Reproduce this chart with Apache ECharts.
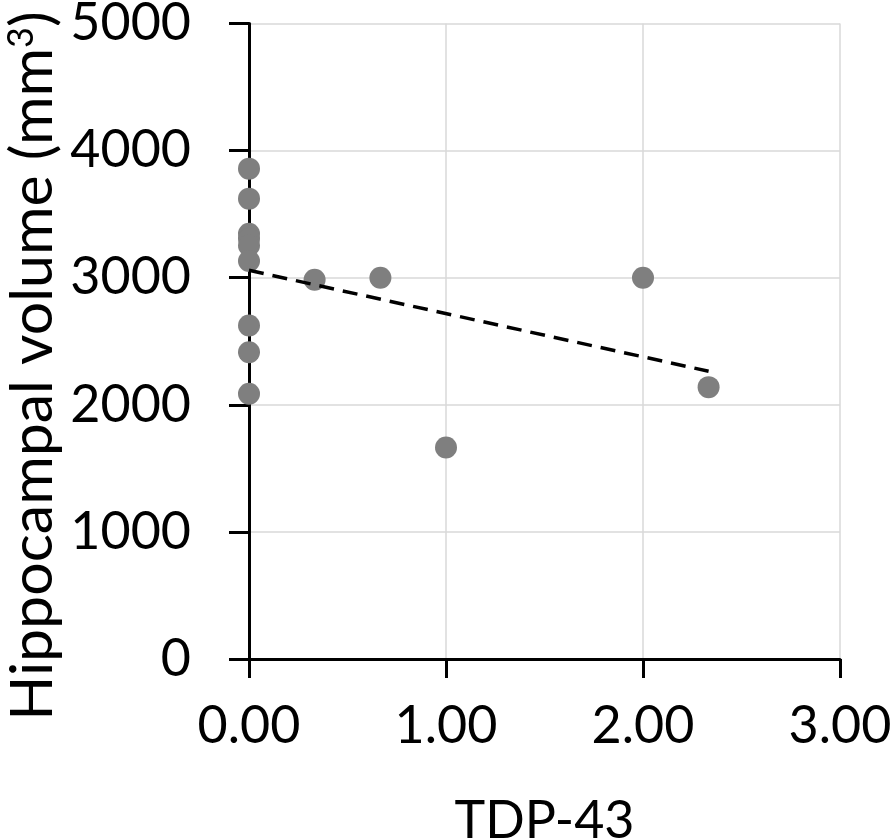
<!DOCTYPE html>
<html>
<head>
<meta charset="utf-8">
<script src="https://cdn.jsdelivr.net/npm/echarts@6/dist/echarts.min.js"></script>
<style>html,body{margin:0;padding:0;background:#fff}#c{width:894px;height:838px}</style>
</head>
<body>
<div id="c"></div>
<script>
var tdp43 = [0, 0, 0, 0, 0, 0, 0, 0, 0, 0.333, 0.667, 1.0, 2.0, 2.333];
var volume = [3858, 3622, 3346, 3307, 3254, 3132, 2624, 2414, 2087, 2984, 3000, 1664, 3000, 2139];
var trendX = [0, 2.333];
var trendY = [3058, 2264];
var xTicks = ['0.00', '1.00', '2.00', '3.00'];
var yTicks = ['0', '1000', '2000', '3000', '4000', '5000'];

var points = tdp43.map(function (x, i) { return [x, volume[i]]; });
var trend = trendX.map(function (x, i) { return [x, trendY[i]]; });
var FONT = 'Lato';

var chart = echarts.init(document.getElementById('c'), null, {renderer: 'canvas'});
chart.setOption({
  animation: false,
  grid: {left: 249, right: 54, top: 23.5, bottom: 179, containLabel: false, outerBoundsMode: 'none'},
  graphic: [{
    type: 'text', x: 33, y: 366, rotation: Math.PI / 2,
    style: {
      text: 'Hippocampal volume (mm{sup|3})', fontFamily: FONT, fontSize: 59, fill: '#000',
      align: 'center', verticalAlign: 'middle',
      rich: {sup: {fontFamily: FONT, fontSize: 36, fill: '#000', padding: [0, 0, 24, 0]}}
    }
  }],
  xAxis: {
    type: 'value', min: 0, max: 3, interval: 1,
    name: 'TDP-43', nameLocation: 'middle', nameGap: 136,
    nameTextStyle: {fontFamily: FONT, fontSize: 52, color: '#000'},
    axisLine: {show: true, onZero: false, lineStyle: {color: '#000', width: 3}},
    axisTick: {show: true, inside: false, length: 19, lineStyle: {color: '#000', width: 3}},
    axisLabel: {margin: 41, fontFamily: FONT, fontSize: 52, color: '#000',
      formatter: function (v) { return xTicks[Math.round(v)]; }},
    splitLine: {show: true, lineStyle: {color: '#d9d9d9', width: 1.5}}
  },
  yAxis: {
    type: 'value', min: 0, max: 5000, interval: 1000,
    axisLine: {show: true, onZero: false, lineStyle: {color: '#000', width: 3}},
    axisTick: {show: true, inside: false, length: 20, lineStyle: {color: '#000', width: 3}},
    axisLabel: {margin: 58, fontFamily: FONT, fontSize: 52, color: '#000',
      formatter: function (v) { return yTicks[Math.round(v / 1000)]; }},
    splitLine: {show: true, lineStyle: {color: '#d9d9d9', width: 1.5}}
  },
  series: [
    {
      type: 'scatter', data: points, symbol: 'circle', symbolSize: 22, clip: false,
      itemStyle: {color: '#7f7f7f', opacity: 1}, z: 2
    },
    {
      type: 'line', data: trend, showSymbol: false, symbol: 'none', clip: false,
      lineStyle: {color: '#000', width: 3.5, type: [15, 9]}, z: 3
    }
  ]
});
</script>
</body>
</html>
